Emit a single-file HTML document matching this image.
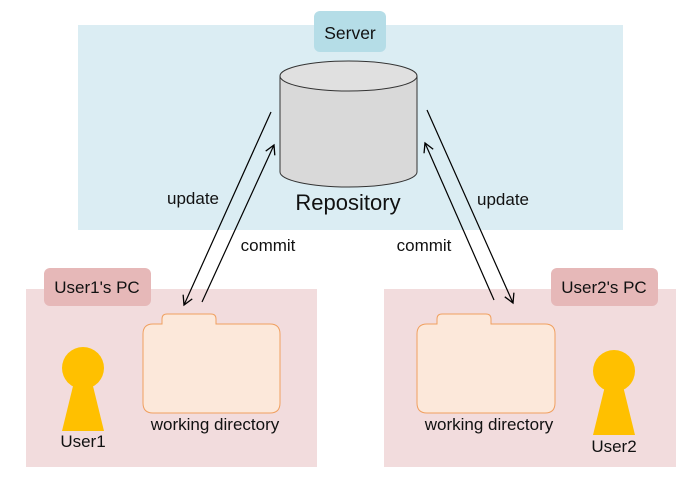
<!DOCTYPE html>
<html><head><meta charset="utf-8"><style>
body{margin:0;background:#fff;}
svg{display:block;font-family:"Liberation Sans",sans-serif;}
</style></head><body>
<svg width="700" height="490" viewBox="0 0 700 490" xmlns="http://www.w3.org/2000/svg">
<defs>
<marker id="ah" markerWidth="12" markerHeight="12" refX="10" refY="6" orient="auto" markerUnits="userSpaceOnUse">
<path d="M1,1 L10,6 L1,11" fill="none" stroke="#000" stroke-width="1.3"/>
</marker>
</defs>
<rect x="78" y="25" width="545" height="205" fill="#dbedf3"/>
<rect x="314" y="11" width="72" height="41" rx="6" fill="#b5dde7"/>
<text x="350" y="39" font-size="17.5" text-anchor="middle" fill="#111">Server</text>
<path d="M280,76 V172 A68.5,15 0 0 0 417,172 V76" fill="#d9d9d9" stroke="#333" stroke-width="1"/>
<ellipse cx="348.5" cy="76" rx="68.5" ry="15" fill="#e0e0e0" stroke="#333" stroke-width="1"/>
<text x="348" y="210" font-size="22" text-anchor="middle" fill="#111">Repository</text>

<rect x="26" y="289" width="291" height="178" fill="#f2dcdd"/>
<rect x="44" y="268" width="107" height="38" rx="6" fill="#e6b8b8"/>
<text x="97" y="293" font-size="17" text-anchor="middle" fill="#111">User1's PC</text>

<rect x="384" y="289" width="292" height="178" fill="#f2dcdd"/>
<rect x="551" y="268" width="107" height="38" rx="6" fill="#e6b8b8"/>
<text x="604" y="293" font-size="17" text-anchor="middle" fill="#111">User2's PC</text>

<path d="M143,334 Q143,324 153,324 H162 V319 Q162,314 167,314 H211 Q216,314 216,319 V324 H270 Q280,324 280,334 V403 Q280,413 270,413 H153 Q143,413 143,403 Z" fill="#fce8da" stroke="#f0a060" stroke-width="1"/>
<text x="215" y="430" font-size="17" text-anchor="middle" fill="#111">working directory</text>

<path d="M417,334 Q417,324 427,324 H437 V319 Q437,314 442,314 H486 Q491,314 491,319 V324 H545 Q555,324 555,334 V403 Q555,413 545,413 H427 Q417,413 417,403 Z" fill="#fce8da" stroke="#f0a060" stroke-width="1"/>
<text x="489" y="430" font-size="17" text-anchor="middle" fill="#111">working directory</text>

<circle cx="83" cy="368" r="21" fill="#ffc000"/>
<polygon points="74,382 92,382 104,431 62,431" fill="#ffc000"/>
<text x="83" y="447" font-size="17" text-anchor="middle" fill="#111">User1</text>

<circle cx="614" cy="371" r="21" fill="#ffc000"/>
<polygon points="605,386 623,386 635,435 593,435" fill="#ffc000"/>
<text x="614" y="452" font-size="17" text-anchor="middle" fill="#111">User2</text>

<line x1="271" y1="112" x2="184" y2="305" stroke="#000" stroke-width="1.2" marker-end="url(#ah)"/>
<line x1="202" y1="302" x2="274" y2="145" stroke="#000" stroke-width="1.2" marker-end="url(#ah)"/>
<line x1="427" y1="110" x2="513" y2="303" stroke="#000" stroke-width="1.2" marker-end="url(#ah)"/>
<line x1="494" y1="300" x2="425" y2="143" stroke="#000" stroke-width="1.2" marker-end="url(#ah)"/>

<text x="193" y="204" font-size="17" text-anchor="middle" fill="#111">update</text>
<text x="268" y="251" font-size="17" text-anchor="middle" fill="#111">commit</text>
<text x="424" y="251" font-size="17" text-anchor="middle" fill="#111">commit</text>
<text x="503" y="205" font-size="17" text-anchor="middle" fill="#111">update</text>
</svg>
</body></html>
